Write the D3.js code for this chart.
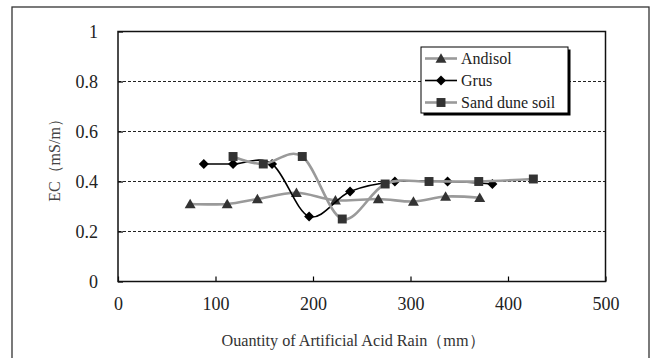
<!DOCTYPE html>
<html>
<head>
<meta charset="utf-8">
<script src="https://cdn.jsdelivr.net/npm/d3@7"></script>
<style>
  body { margin: 0; background: #fff; }
</style>
</head>
<body>
<div id="chart"></div>
<script>
// values
const xTicks = [0, 100, 200, 300, 400, 500];
const yTicks = [0, 0.2, 0.4, 0.6, 0.8, 1];
const yLabels = ['0', '0.2', '0.4', '0.6', '0.8', '1'];

const andisolX = [74, 112, 143, 183, 223, 267, 303, 336, 371];
const andisolY = [0.31, 0.31, 0.33, 0.355, 0.325, 0.33, 0.32, 0.34, 0.335];
const grusX = [88, 118, 158, 196, 238, 284, 338, 384];
const grusY = [0.47, 0.47, 0.47, 0.26, 0.36, 0.40, 0.40, 0.39];
const sandX = [118, 149, 189, 230, 274, 319, 370, 426];
const sandY = [0.50, 0.47, 0.50, 0.25, 0.39, 0.40, 0.40, 0.41];

const seriesNames = ['Andisol', 'Grus', 'Sand dune soil'];

const serif = 'Liberation Serif';
const width = 655, height = 358;
const pLeft = 118, pRight = 605.5, pTop = 31.5, pBottom = 281.5;

const svg = d3.select('#chart').append('svg')
    .attr('width', width)
    .attr('height', height)
    .style('font-family', serif);

// outer frame
svg.append('rect')
    .attr('x', 12).attr('y', 7)
    .attr('width', 637).attr('height', 370)
    .attr('fill', '#fff')
    .attr('stroke', '#333')
    .attr('stroke-width', 1.3);

const x = d3.scaleLinear().domain([0, 500]).range([pLeft, pRight]);
const y = d3.scaleLinear().domain([0, 1]).range([pBottom, pTop]);

// gridlines
svg.append('g')
    .selectAll('line')
    .data(yTicks.slice(1, -1))
    .join('line')
    .attr('x1', pLeft).attr('x2', pRight)
    .attr('y1', d => y(d)).attr('y2', d => y(d))
    .attr('stroke', '#222')
    .attr('stroke-width', 1)
    .attr('stroke-dasharray', '3,2');

// axes
const xAxis = svg.append('g')
    .attr('transform', 'translate(0,' + pBottom + ')')
    .call(d3.axisBottom(x).tickValues(xTicks).tickSizeInner(-5).tickSizeOuter(0).tickPadding(16));
const yAxis = svg.append('g')
    .attr('transform', 'translate(' + pLeft + ',0)')
    .call(d3.axisLeft(y).tickValues(yTicks).tickFormat((d, i) => yLabels[i])
        .tickSizeInner(-5).tickSizeOuter(0).tickPadding(20));

[xAxis, yAxis].forEach(a => {
    a.attr('font-family', null);
    a.select('.domain').remove();
    a.selectAll('line').attr('stroke', '#000').attr('stroke-width', 1.2);
    a.selectAll('text')
        .attr('font-size', 18)
        .style('font-family', serif)
        .attr('fill', '#222');
});

// plot frame
svg.append('rect')
    .attr('x', pLeft).attr('y', pTop)
    .attr('width', pRight - pLeft).attr('height', pBottom - pTop)
    .attr('fill', 'none')
    .attr('stroke', '#111')
    .attr('stroke-width', 1.5);

// axis titles
svg.append('text')
    .attr('transform', 'translate(60,' + (pTop + pBottom) / 2 + ') rotate(-90)')
    .attr('text-anchor', 'middle')
    .attr('font-size', 16)
    .attr('fill', '#444')
    .text('EC（mS/m）');

svg.append('text')
    .attr('x', 353)
    .attr('y', 346)
    .attr('text-anchor', 'middle')
    .attr('font-size', 16.2)
    .attr('fill', '#333')
    .text('Ouantity of Artificial Acid Rain（mm）');

const line = d3.line()
    .x(d => x(d[0]))
    .y(d => y(d[1]))
    .curve(d3.curveCardinal.tension(0));

const tri = d3.symbol().type(d3.symbolTriangle).size(52);
const sq = d3.symbol().type(d3.symbolSquare).size(80);
const dia = d3.symbol().type(d3.symbolSquare).size(50);

const series = [
    { xs: andisolX, ys: andisolY, stroke: '#9a9a9a', sw: 2.6, mark: tri(), rot: 0, fill: '#333', dy: 1 },
    { xs: grusX, ys: grusY, stroke: '#000', sw: 1.6, mark: dia(), rot: 45, fill: '#000', dy: 0 },
    { xs: sandX, ys: sandY, stroke: '#9a9a9a', sw: 2.6, mark: sq(), rot: 0, fill: '#333', dy: 0 }
];

series.forEach(s => {
    const pts = s.xs.map((v, i) => [v, s.ys[i]]);
    svg.append('path')
        .datum(pts)
        .attr('d', line)
        .attr('fill', 'none')
        .attr('stroke', s.stroke)
        .attr('stroke-width', s.sw);
    svg.append('g')
        .selectAll('path')
        .data(pts)
        .join('path')
        .attr('d', s.mark)
        .attr('transform', d => 'translate(' + x(d[0]) + ',' + (y(d[1]) + s.dy) + ') rotate(' + s.rot + ')')
        .attr('fill', s.fill);
});

// legend
const lg = svg.append('g').attr('transform', 'translate(421,47)');
lg.append('rect')
    .attr('x', 2.5).attr('y', 2.5)
    .attr('width', 147).attr('height', 66)
    .attr('fill', '#000');
lg.append('rect')
    .attr('x', 0).attr('y', 0)
    .attr('width', 147).attr('height', 66)
    .attr('fill', '#fff')
    .attr('stroke', '#000')
    .attr('stroke-width', 1);

series.forEach((s, i) => {
    const ly = 11.5 + i * 22;
    lg.append('line')
        .attr('x1', 4).attr('x2', 36)
        .attr('y1', ly).attr('y2', ly)
        .attr('stroke', s.stroke)
        .attr('stroke-width', s.sw);
    lg.append('path')
        .attr('d', s.mark)
        .attr('transform', 'translate(20,' + (ly + s.dy) + ') rotate(' + s.rot + ')')
        .attr('fill', s.fill);
    lg.append('text')
        .attr('x', 40)
        .attr('y', ly + 5.5)
        .attr('font-size', 16)
        .attr('fill', '#222')
        .text(seriesNames[i]);
});
</script>
</body>
</html>
